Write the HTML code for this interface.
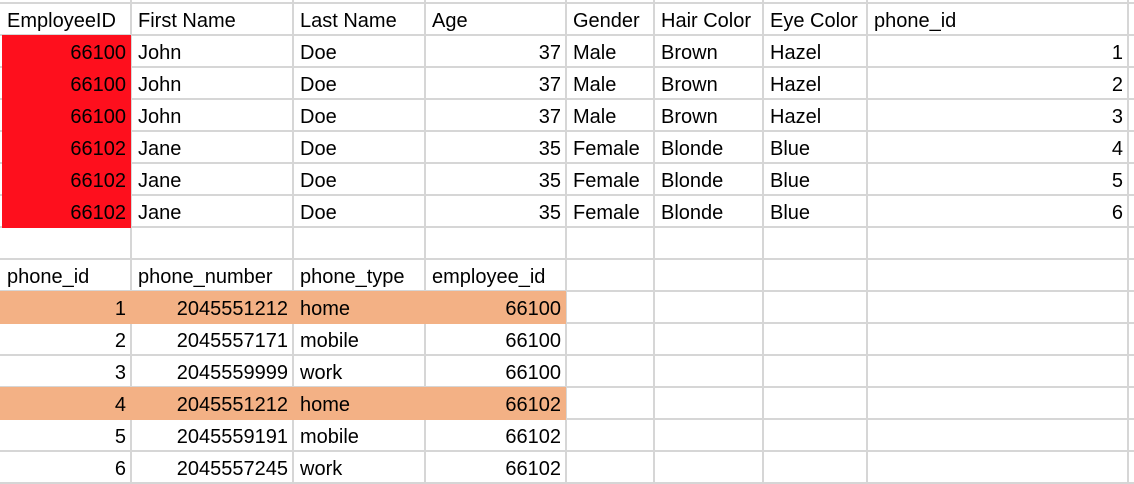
<!DOCTYPE html>
<html><head><meta charset="utf-8"><style>
body{margin:0;width:1134px;height:482px;overflow:hidden;background:#fff;font-family:"Liberation Sans",sans-serif;position:relative;}
.h{position:absolute;left:0;width:1134px;height:2px;background:#d6d6d6;}
.v{position:absolute;top:0;width:2px;height:482px;background:#d6d6d6;}
.f{position:absolute;}
.c{position:absolute;height:30px;line-height:32px;font-size:20px;color:#000;white-space:nowrap;box-sizing:border-box;padding:0 5px;overflow:hidden;}
.n{text-align:right;}
</style></head><body>
<div id="sheet"></div>
<script>
const colX=[0,131,293,425,566,654,763,867,1128,1134];
const rows=[
 ["EmployeeID","First Name","Last Name","Age","Gender","Hair Color","Eye Color","phone_id"],
 ["66100","John","Doe","37","Male","Brown","Hazel","1"],
 ["66100","John","Doe","37","Male","Brown","Hazel","2"],
 ["66100","John","Doe","37","Male","Brown","Hazel","3"],
 ["66102","Jane","Doe","35","Female","Blonde","Blue","4"],
 ["66102","Jane","Doe","35","Female","Blonde","Blue","5"],
 ["66102","Jane","Doe","35","Female","Blonde","Blue","6"],
 [],
 ["phone_id","phone_number","phone_type","employee_id"],
 ["1","2045551212","home","66100"],
 ["2","2045557171","mobile","66100"],
 ["3","2045559999","work","66100"],
 ["4","2045551212","home","66102"],
 ["5","2045559191","mobile","66102"],
 ["6","2045557245","work","66102"]
];
const sheet=document.getElementById('sheet');
for(let k=0;k<16;k++){
  const h=document.createElement('div');
  
  
  h.className='h';h.style.top=(2+32*k)+'px';
  sheet.appendChild(h);
}
colX.slice(1,9).forEach(x=>{
  const v=document.createElement('div');
  
  
  v.className='v';v.style.left=(x-1)+'px';
  sheet.appendChild(v);
});
function fill(x,y,w,h,c,name){
  const f=document.createElement('div');
  
  
  f.className='f';
  f.style.left=x+'px';f.style.top=y+'px';f.style.width=w+'px';f.style.height=h+'px';f.style.background=c;
  sheet.appendChild(f);
}
fill(2,35,129,193,'#fe0f1d','employee-id-highlight');
fill(0,291,566,33,'#f3b185','phone-row-1-highlight');
fill(0,387,566,33,'#f3b185','phone-row-4-highlight');
rows.forEach((r,ri)=>{
  const y=2+32*ri+2;
  r.forEach((t,ci)=>{
    const d=document.createElement('div');
    
    
    const isNum=/^\d+$/.test(t)&&ri!==0&&ri!==8;
    d.className='c'+(isNum?' n':'');
    d.style.left=(colX[ci]+2)+'px';
    d.style.width=(colX[ci+1]-colX[ci]-2)+'px';
    d.style.top=(y+1)+'px';
    d.textContent=t;
    sheet.appendChild(d);
  });
});
</script>
</body></html>
